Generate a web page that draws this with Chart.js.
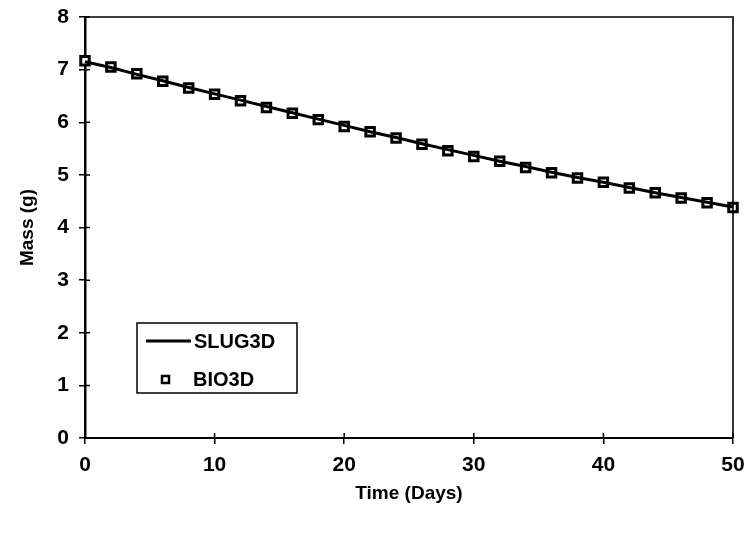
<!DOCTYPE html>
<html>
<head>
<meta charset="utf-8">
<script src="https://cdn.jsdelivr.net/npm/chart.js@4"></script>
<style>
    html, body { margin: 0; padding: 0; background: #fff; }
    #massChart { display: block; }
</style>
</head>
<body>
<canvas id="massChart" width="748" height="536"></canvas>
<script>
// values (mass in g vs time in days)
const days = [0, 2, 4, 6, 8, 10, 12, 14, 16, 18, 20, 22, 24, 26, 28, 30, 32, 34, 36, 38, 40, 42, 44, 46, 48, 50];
const slug3d = [7.15, 7.04, 6.91, 6.79, 6.66, 6.54, 6.42, 6.30, 6.18, 6.06, 5.94, 5.82, 5.71, 5.59, 5.48, 5.37, 5.26, 5.16, 5.05, 4.95, 4.86, 4.76, 4.66, 4.57, 4.48, 4.39];
const bio3d = [7.17, 7.05, 6.92, 6.78, 6.65, 6.53, 6.41, 6.28, 6.17, 6.05, 5.92, 5.82, 5.70, 5.58, 5.46, 5.35, 5.26, 5.14, 5.04, 4.94, 4.86, 4.75, 4.66, 4.56, 4.47, 4.38];
const seriesNames = ['SLUG3D', 'BIO3D'];
const xTitle = 'Time (Days)';
const yTitle = 'Mass (g)';

const FONT = '"Liberation Sans", Arial, sans-serif';

// frame + inner tick marks
const framePlugin = {
    id: 'frame',
    afterDraw(chart) {
        const { ctx, chartArea: a, scales } = chart;
        ctx.save();
        ctx.strokeStyle = '#000';
        ctx.lineWidth = 1.6;
        ctx.beginPath();
        ctx.moveTo(a.left, a.top);
        ctx.lineTo(a.right, a.top);
        ctx.lineTo(a.right, a.bottom);
        ctx.stroke();

        ctx.lineWidth = 1.5;
        ctx.beginPath();
        scales.y.ticks.forEach(t => {
            const py = scales.y.getPixelForValue(t.value);
            ctx.moveTo(a.left, py);
            ctx.lineTo(a.left + 5, py);
        });
        scales.x.ticks.forEach(t => {
            const px = scales.x.getPixelForValue(t.value);
            ctx.moveTo(px, a.bottom);
            ctx.lineTo(px, a.bottom - 5);
        });
        ctx.stroke();
        ctx.restore();
    }
};

// legend box sitting inside the plot area, lower left
const boxLegend = {
    id: 'boxLegend',
    afterDraw(chart) {
        const { ctx, chartArea: a } = chart;
        const x0 = a.left + 52;
        const y0 = a.top + 306;
        const w = 160, h = 70;
        ctx.save();
        ctx.fillStyle = '#fff';
        ctx.fillRect(x0, y0, w, h);
        ctx.strokeStyle = '#000';
        ctx.lineWidth = 1.5;
        ctx.strokeRect(x0, y0, w, h);

        ctx.lineWidth = 3;
        ctx.beginPath();
        ctx.moveTo(x0 + 9, y0 + 18);
        ctx.lineTo(x0 + 54, y0 + 18);
        ctx.stroke();

        ctx.lineWidth = 2.5;
        ctx.strokeRect(x0 + 25, y0 + 53, 7, 7);

        ctx.fillStyle = '#000';
        ctx.font = 'bold 20px ' + FONT;
        ctx.textBaseline = 'middle';
        ctx.fillText(seriesNames[0], x0 + 57, y0 + 19);
        ctx.fillText(seriesNames[1], x0 + 56, y0 + 57);
        ctx.restore();
    }
};

const ctx = document.getElementById('massChart').getContext('2d');
new Chart(ctx, {
    type: 'line',
    data: {
        datasets: [
            {
                label: seriesNames[0],
                data: days.map((d, i) => ({ x: d, y: slug3d[i] })),
                borderColor: '#000',
                borderWidth: 3,
                pointRadius: 0,
                tension: 0,
                clip: false
            },
            {
                label: seriesNames[1],
                data: days.map((d, i) => ({ x: d, y: bio3d[i] })),
                showLine: false,
                pointStyle: 'rect',
                pointRadius: 6,
                pointBorderWidth: 3,
                pointBorderColor: '#000',
                pointBackgroundColor: '#fff',
                clip: false
            }
        ]
    },
    options: {
        responsive: false,
        animation: false,
        layout: { padding: { top: 17, right: 15, left: 0, bottom: 0 } },
        plugins: {
            legend: { display: false },
            tooltip: { enabled: false }
        },
        scales: {
            x: {
                type: 'linear',
                min: 0,
                max: 50,
                ticks: {
                    stepSize: 10,
                    color: '#000',
                    padding: 9,
                    maxRotation: 0,
                    font: { family: FONT, size: 21, weight: 'bold' }
                },
                grid: { drawOnChartArea: false, color: '#000', tickLength: 6, lineWidth: 1.5 },
                border: { color: '#000', width: 2 },
                title: {
                    display: true,
                    text: xTitle,
                    color: '#000',
                    padding: { top: 0, bottom: 31 },
                    font: { family: FONT, size: 19, weight: 'bold' }
                },
                afterFit(scale) {
                    scale.height = 98;
                    scale.paddingLeft = 0;
                    scale.paddingRight = 0;
                }
            },
            y: {
                min: 0,
                max: 8,
                ticks: {
                    stepSize: 1,
                    color: '#000',
                    padding: 10,
                    font: { family: FONT, size: 21, weight: 'bold' }
                },
                grid: { drawOnChartArea: false, color: '#000', tickLength: 6, lineWidth: 1.5 },
                border: { color: '#000', width: 2.5 },
                title: {
                    display: true,
                    text: yTitle,
                    color: '#000',
                    padding: { top: 16, bottom: 0 },
                    font: { family: FONT, size: 19, weight: 'bold' }
                },
                afterFit(scale) {
                    scale.width = 85;
                    scale.paddingTop = 0;
                    scale.paddingBottom = 0;
                }
            }
        }
    },
    plugins: [framePlugin, boxLegend]
});
</script>
</body>
</html>
